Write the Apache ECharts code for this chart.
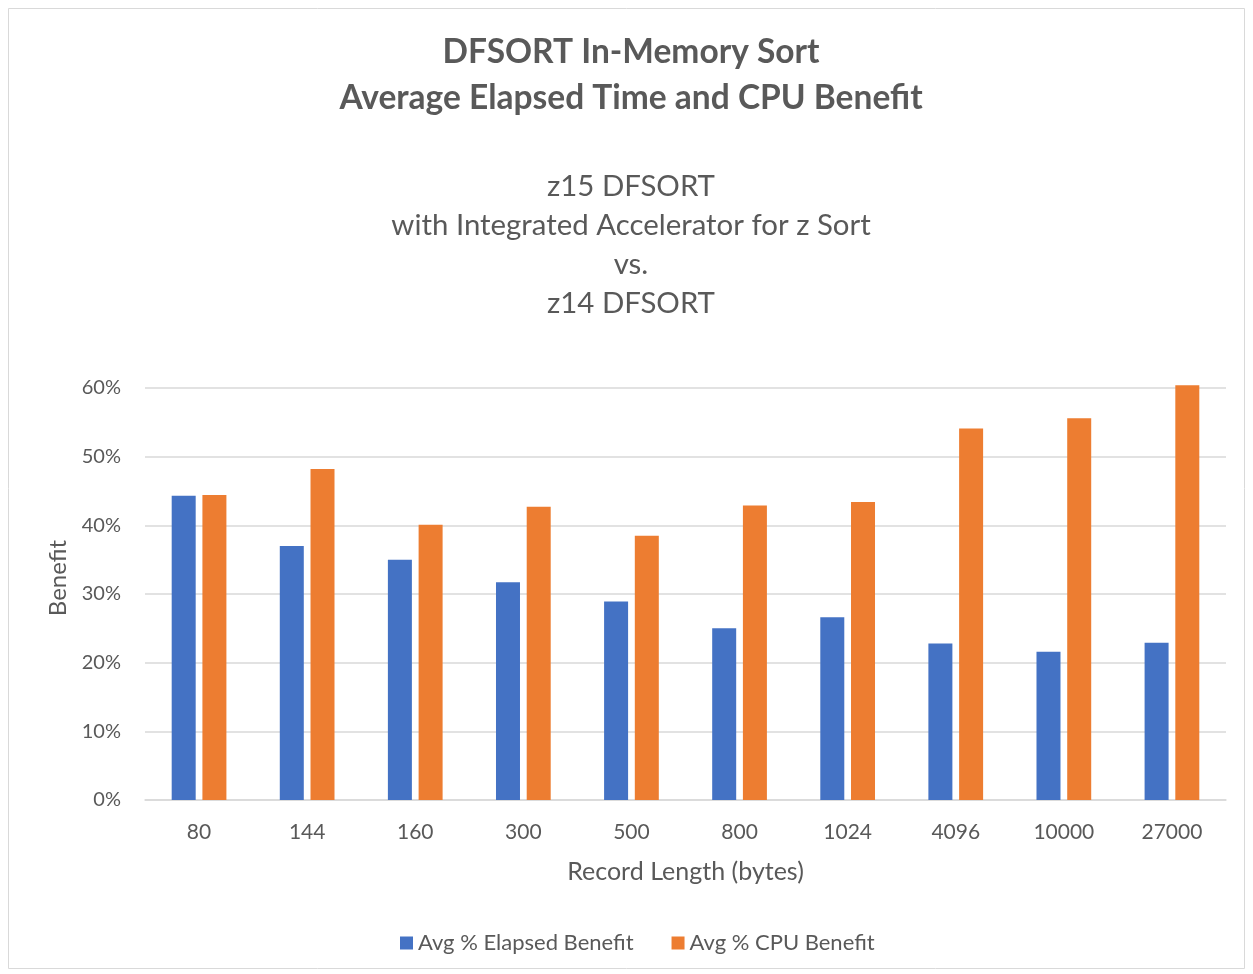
<!DOCTYPE html>
<html>
<head>
<meta charset="utf-8">
<script src="https://cdn.jsdelivr.net/npm/echarts@6/dist/echarts.min.js"></script>
<style>
html,body{margin:0;padding:0;background:#fff;}
#chart{width:1253px;height:974px;}
</style>
</head>
<body>
<div id="chart"></div>
<script>
const categories = ['80','144','160','300','500','800','1024','4096','10000','27000'];
const elapsedBenefit = [0.443, 0.370, 0.350, 0.317, 0.289, 0.250, 0.266, 0.228, 0.216, 0.229];
const cpuBenefit = [0.444, 0.482, 0.401, 0.427, 0.385, 0.429, 0.434, 0.541, 0.556, 0.604];
const seriesNames = ['Avg % Elapsed Benefit', 'Avg % CPU Benefit'];
const titleText = 'DFSORT In-Memory Sort\nAverage Elapsed Time and CPU Benefit';
const subtitleText = 'z15 DFSORT\nwith Integrated Accelerator for z Sort\nvs.\nz14 DFSORT';

const FONT = 'Lato, "Open Sans", sans-serif';
const TXT = '#595959';
const chart = echarts.init(document.getElementById('chart'));
chart.setOption({
  backgroundColor: '#fff',
  textStyle: {fontFamily: FONT},
  graphic: [{
    type: 'rect', shape: {x: 8.5, y: 8.5, width: 1236, height: 960},
    style: {fill: 'none', stroke: '#d9d9d9', lineWidth: 1}, silent: true
  }],
  title: [{
    text: titleText, left: 626, top: 24, textAlign: 'center',
    textStyle: {fontFamily: FONT, fontSize: 33.5, fontWeight: 'bold', color: TXT, lineHeight: 46}
  }, {
    text: subtitleText, left: 626, top: 162, textAlign: 'center',
    textStyle: {fontFamily: FONT, fontSize: 29.4, fontWeight: 'normal', color: TXT, lineHeight: 39}
  }],
  legend: {
    data: seriesNames, left: 395, top: 927, itemWidth: 13, itemHeight: 13, itemGap: 38,
    icon: 'rect',
    textStyle: {fontFamily: FONT, fontSize: 22, color: TXT}
  },
  grid: {left: 145, right: 27, top: 388, bottom: 174, containLabel: false},
  xAxis: {
    type: 'category', data: categories,
    name: 'Record Length (bytes)', nameLocation: 'middle', nameGap: 59,
    nameTextStyle: {fontFamily: FONT, fontSize: 25, color: TXT},
    axisLine: {lineStyle: {color: '#d9d9d9', width: 1.5}},
    axisTick: {show: false},
    axisLabel: {fontFamily: FONT, fontSize: 21, color: TXT, margin: 22}
  },
  yAxis: {
    type: 'value', min: 0, max: 0.6, interval: 0.1,
    name: 'Benefit', nameLocation: 'middle', nameGap: 75,
    nameTextStyle: {fontFamily: FONT, fontSize: 24, color: TXT, padding: [0, 0, 0, 32]},
    axisLine: {show: false}, axisTick: {show: false},
    splitLine: {lineStyle: {color: '#d9d9d9', width: 1.5}},
    axisLabel: {fontFamily: FONT, fontSize: 20, color: TXT, margin: 24,
      formatter: v => Math.round(v * 100) + '%'}
  },
  series: [{
    name: seriesNames[0], type: 'bar', data: elapsedBenefit, clip: false,
    barWidth: 24, barGap: '28%', itemStyle: {color: '#4472C4'}
  }, {
    name: seriesNames[1], type: 'bar', data: cpuBenefit, clip: false,
    barWidth: 24, itemStyle: {color: '#ED7D31'}
  }]
});
</script>
</body>
</html>
